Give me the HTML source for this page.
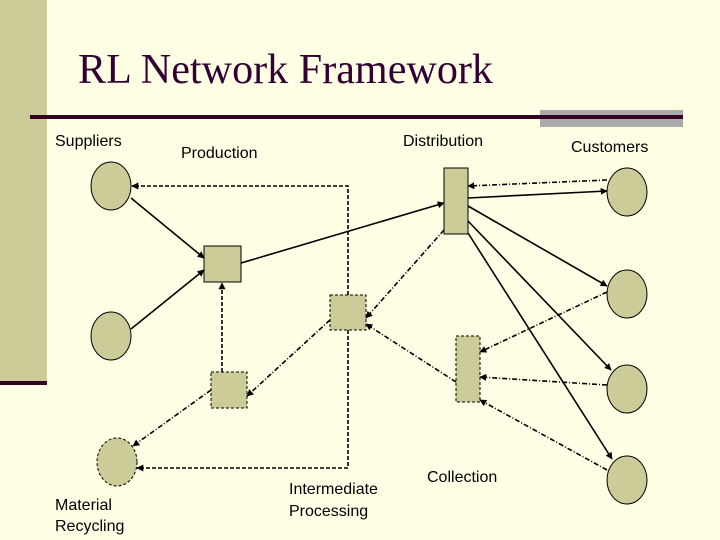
<!DOCTYPE html>
<html><head><meta charset="utf-8"><style>
html,body{margin:0;padding:0;background:#ffffe5;}
body{width:720px;height:540px;position:relative;overflow:hidden;}
svg{position:absolute;left:0;top:0;}
text{font-family:"Liberation Sans",Arial,sans-serif;font-size:16px;fill:#000;}
</style></head><body>
<svg width="720" height="540" viewBox="0 0 720 540" xmlns="http://www.w3.org/2000/svg">
<defs>
<marker id="a" viewBox="0 0 10 10" refX="9" refY="5" markerWidth="7" markerHeight="7" orient="auto" markerUnits="userSpaceOnUse"><path d="M0,0 L10,5 L0,10 z" fill="#000"/></marker>
</defs>
<rect x="0" y="0" width="47" height="381" fill="#cccc99"/>
<rect x="0" y="381" width="47" height="4" fill="#330022"/>
<rect x="540" y="110" width="143" height="17" fill="#aaaaaa"/>
<rect x="30" y="115" width="653" height="4" fill="#330022"/>
<text x="78" y="83" style="font-family:'Liberation Serif',serif;font-size:42px;fill:#330033" textLength="415" lengthAdjust="spacingAndGlyphs">RL Network Framework</text>

<text x="55" y="146">Suppliers</text>
<text x="181" y="158">Production</text>
<text x="403" y="146">Distribution</text>
<text x="571" y="152">Customers</text>
<text x="55" y="510">Material</text>
<text x="55" y="531">Recycling</text>
<text x="289" y="494">Intermediate</text>
<text x="289" y="516">Processing</text>
<text x="427" y="482">Collection</text>

<g fill="#cccc99" stroke="#000" stroke-width="1">
<ellipse cx="111" cy="186" rx="20" ry="24"/>
<ellipse cx="111" cy="336" rx="20" ry="24"/>
<ellipse cx="117" cy="462" rx="20" ry="24" stroke-dasharray="3,2"/>
<ellipse cx="627" cy="192" rx="20" ry="24"/>
<ellipse cx="627" cy="294" rx="20" ry="24"/>
<ellipse cx="627" cy="389" rx="20" ry="24"/>
<ellipse cx="627" cy="480" rx="20" ry="24"/>
<rect x="204" y="246" width="37" height="36"/>
<rect x="211" y="372" width="36" height="36" stroke-dasharray="3,2"/>
<rect x="330" y="295" width="36" height="35" stroke-dasharray="3,2"/>
<rect x="444" y="168" width="24" height="66"/>
<rect x="456" y="336" width="24" height="66" stroke-dasharray="3,2"/>
</g>

<g stroke="#000" stroke-width="1.6" fill="none" marker-end="url(#a)">
<line x1="131" y1="198" x2="204" y2="258"/>
<line x1="131" y1="329" x2="204" y2="270"/>
<line x1="241" y1="263" x2="444" y2="203"/>
<line x1="468" y1="198" x2="607" y2="191"/>
<line x1="468" y1="206" x2="607" y2="286"/>
<line x1="468" y1="221" x2="611" y2="370"/>
<line x1="468" y1="233" x2="612" y2="459"/>
</g>
<g stroke="#000" stroke-width="1.6" fill="none" marker-end="url(#a)" stroke-dasharray="5,2,1,2">
<line x1="607" y1="180" x2="468" y2="186"/>
<line x1="444" y1="230" x2="366" y2="318"/>
<line x1="607" y1="292" x2="480" y2="352"/>
<line x1="607" y1="385" x2="480" y2="377"/>
<line x1="607" y1="470" x2="480" y2="400"/>
<line x1="456" y1="382" x2="366" y2="324"/>
<line x1="330" y1="320" x2="247" y2="396"/>
<line x1="211" y1="390" x2="133" y2="446"/>
</g>
<g stroke="#000" stroke-width="1.6" fill="none" stroke-dasharray="4,2">
<line x1="222" y1="372" x2="222" y2="283" marker-end="url(#a)"/>
<polyline points="348,295 348,186 132,186" marker-end="url(#a)"/>
<polyline points="348,330 348,468 137,468" marker-end="url(#a)"/>
</g>
</svg>
</body></html>
